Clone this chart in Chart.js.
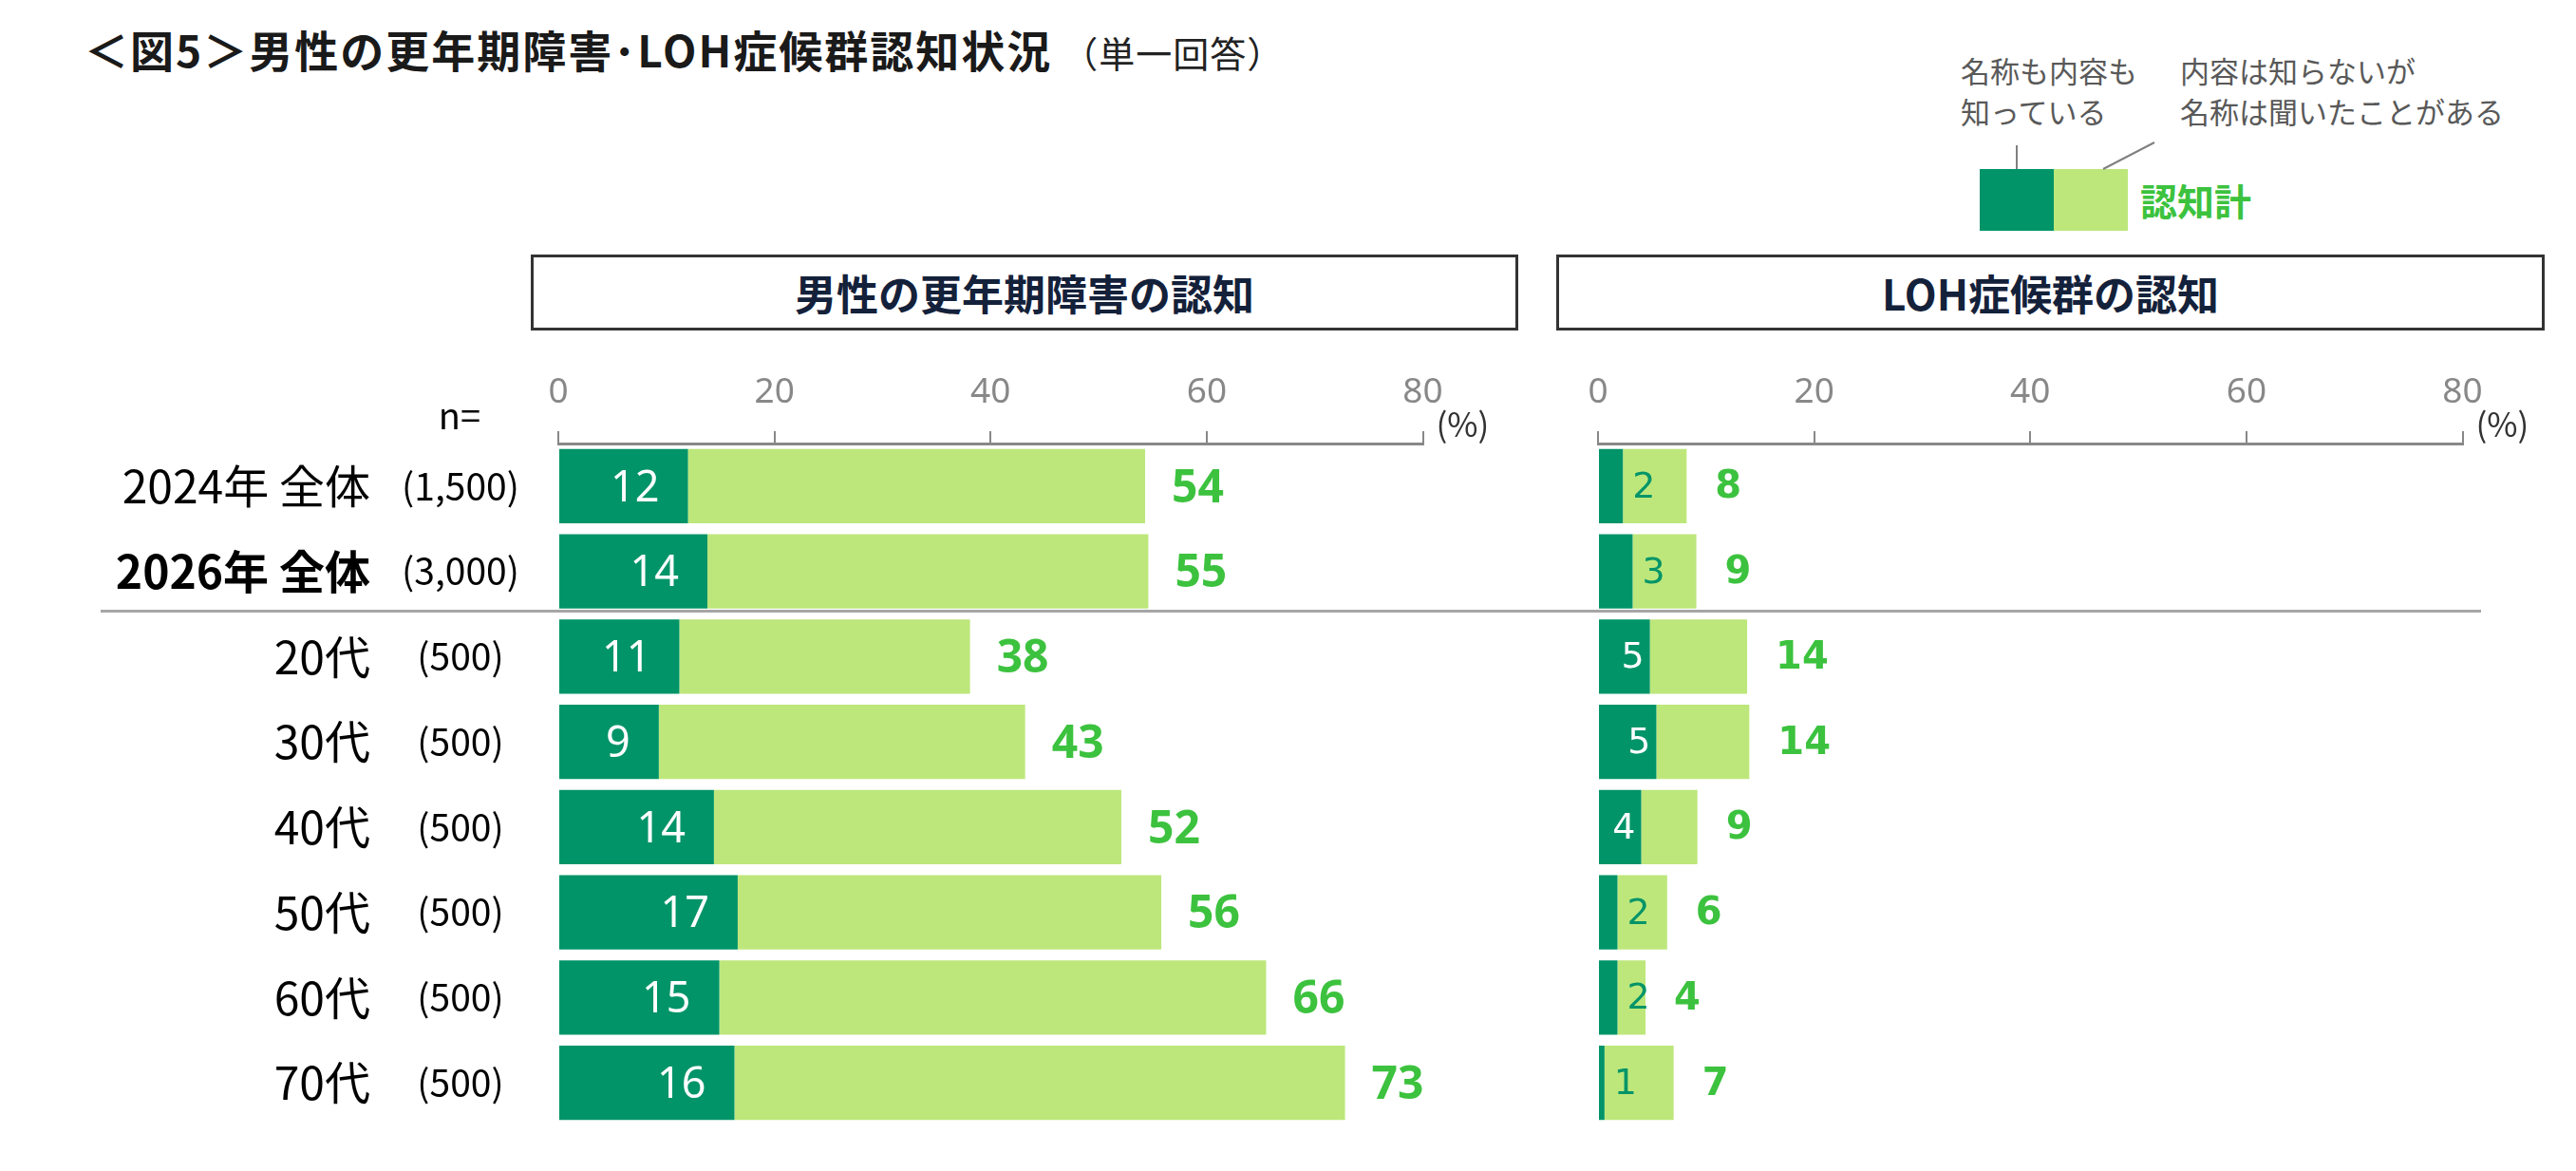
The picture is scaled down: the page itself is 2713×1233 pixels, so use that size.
<!DOCTYPE html>
<html lang="ja">
<head>
<meta charset="utf-8">
<script src="https://cdn.jsdelivr.net/npm/chart.js@4.4.1/dist/chart.umd.min.js"></script>
<style>
  html, body { margin: 0; padding: 0; background: #fff; }
  body { width: 2713px; height: 1233px; position: relative; overflow: hidden;
         font-family: "Noto Sans CJK JP", "Noto Sans", sans-serif; }
  .abs { position: absolute; }
  .title { left: 89px; top: 18px; font-size: 46px; font-weight: 700; color: #1a1a1a; letter-spacing: 2px; white-space: nowrap; }
  .title small { font-size: 38px; font-weight: 400; color: #222; letter-spacing: 1px; margin-left: 10px; }
  .panel { top: 268px; height: 74px; border: 3px solid #333; box-sizing: content-box;
           display: flex; align-items: center; justify-content: center;
           font-size: 44px; font-weight: 700; color: #14213a; }
  .leg { font-size: 31px; color: #595959; line-height: 43px; white-space: nowrap; }
  .sep { left: 106px; top: 642px; width: 2507px; height: 3px; background: #a6a6a6; }
</style>
</head>
<body>
<div class="abs title">＜図5＞男性の更年期障害･LOH症候群認知状況<small>（単一回答）</small></div>

<!-- 凡例 -->
<div class="abs leg" style="left:2065px; top:52px;">名称も内容も<br>知っている</div>
<div class="abs leg" style="left:2296px; top:52px;">内容は知らないが<br>名称は聞いたことがある</div>
<div class="abs" style="left:2085px; top:178px; width:78px; height:65px; background:#009468;"></div>
<div class="abs" style="left:2163px; top:178px; width:78px; height:65px; background:#bde77b;"></div>
<div class="abs" style="left:2254px; top:182px; font-size:39px; font-weight:700; color:#3cc23e;">認知計</div>
<svg class="abs" style="left:2100px; top:145px;" width="200" height="40">
  <line x1="24" y1="8" x2="24" y2="33" stroke="#808080" stroke-width="2"/>
  <line x1="169" y1="5" x2="115" y2="33" stroke="#808080" stroke-width="2"/>
</svg>

<div class="abs panel" style="left:559px; width:1034px;">男性の更年期障害の認知</div>
<div class="abs panel" style="left:1639px; width:1035px;">LOH症候群の認知</div>

<div class="abs sep"></div>

<div class="abs" style="left:0; top:380px; width:1600px; height:805px;"><canvas id="chartMenopause"></canvas></div>
<div class="abs" style="left:1600px; top:380px; width:1113px; height:805px;"><canvas id="chartLoh"></canvas></div>

<script>
// ---- データ ----
const categories = ['2024年 全体', '2026年 全体', '20代', '30代', '40代', '50代', '60代', '70代'];
const sampleSizes = ['(1,500)', '(3,000)', '(500)', '(500)', '(500)', '(500)', '(500)', '(500)'];
const xTicks = [0, 20, 40, 60, 80];

// 男性の更年期障害の認知（%）
const menoKnowContent = [12.0, 13.8, 11.2, 9.3, 14.4, 16.6, 14.9, 16.3];
const menoAwareTotal  = [54.3, 54.6, 38.1, 43.2, 52.1, 55.8, 65.5, 72.8];

// LOH症候群の認知（%）
const lohKnowContent = [2.3, 3.2, 4.8, 5.4, 4.0, 1.8, 1.8, 0.6];
const lohAwareTotal  = [8.2, 9.1, 13.8, 14.0, 9.2, 6.4, 4.4, 7.0];

const seriesNames = ['名称も内容も知っている', '内容は知らないが名称は聞いたことがある'];

const DARK  = '#009468';
const LIGHT = '#bde77b';
const GREEN = '#3cc23e';
const AXIS  = '#888888';

// 数値ラベル（内側＋認知計）
const barLabels = {
  id: 'barLabels',
  afterDatasetsDraw(chart, args, opts) {
    const { ctx } = chart;
    const dark  = chart.getDatasetMeta(0).data;
    const light = chart.getDatasetMeta(1).data;
    const dv = chart.data.datasets[0].data;
    const lv = chart.data.datasets[1].data;
    ctx.save();
    ctx.textBaseline = 'middle';
    dark.forEach((bar, i) => {
      const w = bar.x - bar.base;
      ctx.font = opts.innerFont;
      if (w < opts.minInner) {
        ctx.fillStyle = DARK;
        ctx.textAlign = 'left';
        ctx.fillText(Math.round(dv[i]), bar.x + opts.outsideGap, bar.y + opts.dy);
      } else {
        ctx.fillStyle = '#fff';
        ctx.textAlign = 'right';
        ctx.fillText(Math.round(dv[i]), bar.x - opts.innerGap, bar.y + opts.dy);
      }
      ctx.font = opts.totalFont;
      ctx.fillStyle = GREEN;
      ctx.textAlign = 'left';
      ctx.fillText(Math.round(dv[i] + lv[i]), light[i].x + opts.totalGap, bar.y + opts.dy);
    });
    // (%)
    const area = chart.chartArea;
    ctx.font = '35px "Noto Sans CJK JP"';
    ctx.fillStyle = '#333';
    ctx.textAlign = 'left';
    ctx.fillText('(%)', area.right + 14, area.top - 20);
    ctx.restore();
  }
};

// 左側の行ラベルと n=
const rowLabels = {
  id: 'rowLabels',
  afterDraw(chart) {
    const { ctx, chartArea } = chart;
    const y = chart.scales.y;
    ctx.save();
    ctx.textBaseline = 'middle';
    ctx.fillStyle = '#000';
    categories.forEach((c, i) => {
      const py = y.getPixelForValue(i);
      ctx.font = (c === '2026年 全体' ? '700 ' : '400 ') + '48px "Noto Sans CJK JP"';
      ctx.textAlign = 'right';
      ctx.fillText(c, chartArea.left - 198, py);
      ctx.font = '39px "Noto Sans CJK JP"';
      ctx.textAlign = 'center';
      ctx.fillText(sampleSizes[i], chartArea.left - 103, py);
    });
    ctx.font = '38px "Noto Sans CJK JP"';
    ctx.textAlign = 'center';
    ctx.fillText('n=', chartArea.left - 104, chartArea.top - 29);
    ctx.restore();
  }
};

function makeChart(id, knowContent, awareTotal, pad, labelOpts, tickFont, extraPlugins) {
  const nameOnly = awareTotal.map((t, i) => +(t - knowContent[i]).toFixed(1));
  return new Chart(document.getElementById(id), {
    type: 'bar',
    data: {
      labels: categories,
      datasets: [
        { label: seriesNames[0], data: knowContent, backgroundColor: DARK },
        { label: seriesNames[1], data: nameOnly, backgroundColor: LIGHT }
      ]
    },
    options: {
      indexAxis: 'y',
      responsive: true,
      maintainAspectRatio: false,
      animation: false,
      devicePixelRatio: 1,
      categoryPercentage: 1,
      barPercentage: 0.87,
      layout: { padding: pad },
      plugins: {
        legend: { display: false },
        tooltip: { enabled: false },
        barLabels: labelOpts
      },
      scales: {
        x: {
          position: 'top',
          stacked: true,
          min: 0, max: 80,
          afterBuildTicks: s => { s.ticks = xTicks.map(v => ({ value: v })); },
          afterFit: s => { s.height = 87; },
          grid: { drawOnChartArea: false, drawTicks: true, tickLength: 13, color: AXIS, lineWidth: 2 },
          border: { display: true, color: AXIS, width: 3 },
          ticks: { color: AXIS, font: tickFont, padding: 18 }
        },
        y: { stacked: true, display: false }
      }
    },
    plugins: [barLabels].concat(extraPlugins)
  });
}

makeChart('chartMenopause', menoKnowContent, menoAwareTotal,
  { left: 588, right: 101.5, top: 0, bottom: 0 },
  { innerFont: '400 45px "Noto Sans"', totalFont: '700 48px "Noto Sans"',
    minInner: 0, innerGap: 30, outsideGap: 8, totalGap: 28, dy: 3 },
  { family: '"Noto Sans"', size: 37 },
  [rowLabels]);

makeChart('chartLoh', lohKnowContent, lohAwareTotal,
  { left: 83, right: 119.5, top: 0, bottom: 0 },
  { innerFont: '400 38px "DejaVu Sans"', totalFont: '700 40px "DejaVu Sans"',
    minInner: 40, innerGap: 6, outsideGap: 10, totalGap: 30, dy: 2 },
  { family: '"Noto Sans"', size: 37 },
  []);
</script>
</body>
</html>
